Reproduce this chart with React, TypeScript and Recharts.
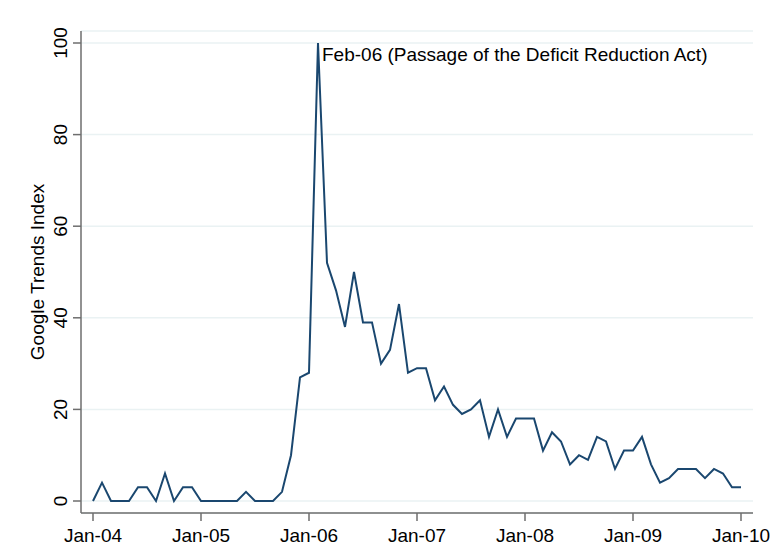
import React from "react";
import {
  LineChart,
  Line,
  XAxis,
  YAxis,
  CartesianGrid,
  Label,
} from "recharts";

// monthly Google Trends index, Jan-04 .. Jan-10
const searchIndex = [
  // 2004
  0, 4, 0, 0, 0, 3, 3, 0, 6, 0, 3, 3,
  // 2005
  0, 0, 0, 0, 0, 2, 0, 0, 0, 2, 10, 27,
  // 2006
  28, 100, 52, 46, 38, 50, 39, 39, 30, 33, 43, 28,
  // 2007
  29, 29, 22, 25, 21, 19, 20, 22, 14, 20, 14, 18,
  // 2008
  18, 18, 11, 15, 13, 8, 10, 9, 14, 13, 7, 11,
  // 2009
  11, 14, 8, 4, 5, 7, 7, 7, 5, 7, 6, 3,
  // 2010
  3,
];

const xTickMonths = [0, 12, 24, 36, 48, 60, 72];
const xTickLabels = ["Jan-04", "Jan-05", "Jan-06", "Jan-07", "Jan-08", "Jan-09", "Jan-10"];
const yTicks = [0, 20, 40, 60, 80, 100];

const annotationText = "Feb-06 (Passage of the Deficit Reduction Act)";
const yAxisTitle = "Google Trends Index";

const data = searchIndex.map((value, month) => ({ month, value }));
const peakIndex = searchIndex.indexOf(Math.max(...searchIndex));

const FONT = "'Liberation Sans', Arial, sans-serif";
const FONT_SIZE = 19;
const AXIS_COLOR = "#6e6e6e";

const YTick = (props: any) => {
  const { x, y, payload } = props;
  return (
    <text
      x={x - 4}
      y={y}
      transform={`rotate(-90, ${x - 4}, ${y})`}
      textAnchor="middle"
      fontFamily={FONT}
      fontSize={FONT_SIZE}
      fill="#000"
    >
      {payload.value}
    </text>
  );
};

const XTick = (props: any) => {
  const { x, y, payload } = props;
  const i = xTickMonths.indexOf(payload.value);
  return (
    <text
      x={x}
      y={y}
      dy="0.71em"
      textAnchor="middle"
      fontFamily={FONT}
      fontSize={FONT_SIZE}
      fill="#000"
    >
      {xTickLabels[i]}
    </text>
  );
};

const PeakLabel = (props: any) => {
  const { x, y, index } = props;
  if (index !== peakIndex) return null;
  return (
    <text x={x + 4} y={y + 18} fontFamily={FONT} fontSize={FONT_SIZE} fill="#000">
      {annotationText}
    </text>
  );
};

const AxisTitle = (props: any) => {
  const { viewBox } = props;
  const cx = viewBox.x + 36;
  const cy = viewBox.y + viewBox.height / 2;
  return (
    <text
      x={cx}
      y={cy}
      transform={`rotate(-90, ${cx}, ${cy})`}
      textAnchor="middle"
      fontFamily={FONT}
      fontSize={FONT_SIZE}
      fill="#000"
    >
      {yAxisTitle}
    </text>
  );
};

export default function App() {
  return (
    <div style={{ position: "absolute", left: 0, top: 0, background: "#fff" }}>
      <LineChart
        width={771}
        height={559}
        data={data}
        margin={{ top: 31, right: 18, bottom: 16, left: 8 }}
      >
        <CartesianGrid horizontal vertical={false} stroke="#eaf2f3" strokeWidth={1.5} />
        <XAxis
          dataKey="month"
          type="number"
          domain={[0, 72]}
          ticks={xTickMonths}
          padding={{ left: 12, right: 12 }}
          height={30}
          tickSize={8}
          tickMargin={8}
          stroke={AXIS_COLOR}
          strokeWidth={1.5}
          tick={<XTick />}
          interval={0}
        />
        <YAxis
          type="number"
          domain={[0, 100]}
          ticks={yTicks}
          padding={{ top: 12, bottom: 12 }}
          width={73}
          tickSize={8}
          tickMargin={2}
          stroke={AXIS_COLOR}
          strokeWidth={1.5}
          tick={<YTick />}
          interval={0}
        >
          <Label content={<AxisTitle />} />
        </YAxis>
        <Line
          type="linear"
          dataKey="value"
          stroke="#1a476f"
          strokeWidth={2}
          dot={false}
          isAnimationActive={false}
          label={<PeakLabel />}
        />
      </LineChart>
    </div>
  );
}
